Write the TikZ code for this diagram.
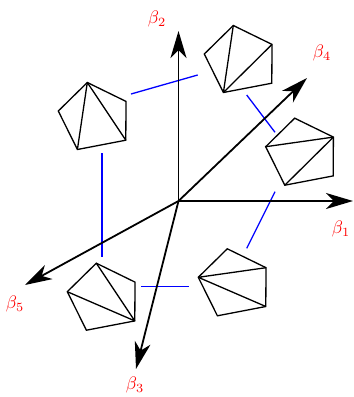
\documentclass[tikz,border=0pt]{standalone}
\usetikzlibrary{calc,arrows.meta}
\newcommand{\mypent}[2]{%
  \coordinate (#1L) at (#2);
  \coordinate (#1T) at ($(#1L)+(29,-28.5)$);
  \coordinate (#1RT) at ($(#1L)+(67.7,-9.6)$);
  \coordinate (#1RB) at ($(#1L)+(67.5,29.2)$);
  \coordinate (#1B) at ($(#1L)+(19.1,38.5)$);
  \draw[pentline] (#1L) -- (#1T) -- (#1RT) -- (#1RB) -- (#1B) -- cycle;
}
\newcommand{\blab}[1]{\scalebox{1.8}{$\beta_{#1}$}}
\begin{document}
\begin{tikzpicture}[x=1pt,y=-1pt,
  axis/.style={line width=1.8pt,-{Stealth[length=27pt,width=16pt,inset=8pt]}},
  pentline/.style={line width=1.3pt,line join=miter},
  link/.style={blue,line width=1.3pt},
  lab/.style={text=red,inner sep=0pt}]
\useasboundingbox (0,0) rectangle (354,397);
% blue links
\coordinate (a1) at (131,94);   \coordinate (a2) at (197.7,75);
\coordinate (b1) at (246.7,95); \coordinate (b2) at (275,132.3);
\coordinate (c1) at (275,191.7);\coordinate (c2) at (246.7,248.3);
\coordinate (d1) at (141,286.7);\coordinate (d2) at (189,286.7);
\coordinate (e1) at (102,153);\coordinate (e2) at (102,257);
\draw[link] (a1) -- (a2);
\draw[link] (b1) -- (b2);
\draw[link] (c1) -- (c2);
\draw[link] (d1) -- (d2);
\draw[link] (e1) -- (e2);
% axes
\coordinate (O) at (178.5,201);
\coordinate (t1) at (353,201);
\coordinate (t2) at (178.5,31);
\coordinate (t3) at (136,369);
\coordinate (t4) at (307,78);
\coordinate (t5) at (25,285);
\draw[axis] (O) -- (t1);
\draw[axis] (O) -- (t2);
\draw[axis] (O) -- (t3);
\draw[axis] (O) -- (t4);
\draw[axis] (O) -- (t5);
\node[lab] (l1) at (341,229) {\blab{1}};
\node[lab] (l2) at (157,19) {\blab{2}};
\node[lab] (l3) at (135,385) {\blab{3}};
\node[lab] (l4) at (322,53) {\blab{4}};
\node[lab] (l5) at (15,304) {\blab{5}};
% pentagons
\mypent{p}{58.3,111}
\draw[pentline] (pT) -- (pB) (pT) -- (pRB);
\mypent{q}{204.3,54}
\draw[pentline] (qB) -- (qT) (qB) -- (qRT);
\mypent{r}{265.7,146.7}
\draw[pentline] (rL) -- (rRT) (rB) -- (rRT);
\mypent{s}{198.3,277.3}
\draw[pentline] (sL) -- (sRT) (sL) -- (sRB);
\mypent{u}{67.3,291.7}
\draw[pentline] (uT) -- (uRB) (uL) -- (uRB);
\end{tikzpicture}
\end{document}
